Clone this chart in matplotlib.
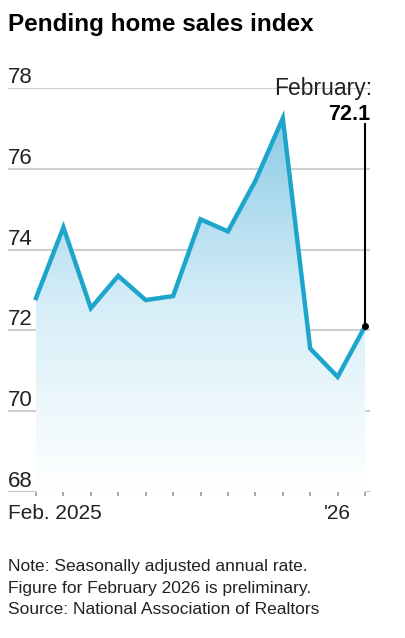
import numpy as np
import matplotlib.pyplot as plt
import matplotlib.transforms as mtransforms
from matplotlib.colors import LinearSegmentedColormap

months = ['Feb. 2025', 'Mar', 'Apr', 'May', 'Jun', 'Jul', 'Aug', 'Sep', 'Oct', 'Nov', 'Dec', "'26", 'Feb']
index = [72.8, 74.55, 72.55, 73.35, 72.75, 72.85, 74.75, 74.45, 75.7, 77.25, 71.55, 70.85, 72.1]
yticks = [68, 70, 72, 74, 76, 78]
xlabels = {0: 'Feb. 2025', 11: "'26"}

plt.rcParams['font.family'] = ['Liberation Sans', 'DejaVu Sans']

line_c = '#1ea5cc'
fig = plt.figure(figsize=(4.06, 6.38), dpi=100)
ax = fig.add_axes([8/406, 1-492/638, 362/406, 404/638])
x = np.arange(len(index))
ax.set_xlim(-1.02, 12.18)
ax.set_ylim(68, 78)

# grid lines with labels sitting on top
ylab = mtransforms.blended_transform_factory(ax.transAxes, ax.transData)
for v in yticks:
    ax.axhline(v, color='#cfcfcf' if v != 68 else '#c4c4c4', lw=1.5, zorder=1)
    ax.text(0, v, str(v), transform=ylab, fontsize=16, va='bottom', ha='left', color='#222222')

# gradient fill under the line
poly = ax.fill_between(x, index, 68, color='none', lw=0)
grad = np.linspace(0, 1, 256).reshape(-1, 1)
cmap = LinearSegmentedColormap.from_list('g', ['#ffffff', '#d6eef8', '#8ccbe6'])
im = ax.imshow(grad, cmap=cmap, aspect='auto', origin='lower', extent=[0, 12, 68, 77.3], zorder=2)
im.set_clip_path(poly.get_paths()[0], ax.transData)

ax.plot(x, index, color=line_c, lw=3.2, solid_joinstyle='miter', zorder=4)

ax.set_xticks(x)
ax.set_xticklabels([])
ax.tick_params(axis='x', length=3, width=1.2, color='#999999', pad=2)
ax.set_yticks([])
for s in ax.spines.values():
    s.set_visible(False)
xlab = mtransforms.blended_transform_factory(ax.transData, ax.transAxes)
for i, lab in xlabels.items():
    ha = 'left' if i == 0 else 'center'
    xx = -1.02 if i == 0 else i
    ax.text(xx, -0.03, lab, transform=xlab, fontsize=15, ha=ha, va='top', color='#222222')

# annotation for latest value
ax.plot([12, 12], [index[-1], 77.1], color='black', lw=1.5, zorder=5)
ax.plot(12, index[-1], 'o', color='black', ms=4, zorder=6)
ax.text(12.25, 78, 'February:', fontsize=16.5, ha='right', va='center', color='#222222')
ax.text(12.2, 77.35, '72.1', fontsize=15.5, fontweight='bold', ha='right', va='center', color='black')

fig.text(8/406, 1-25/638, 'Pending home sales index', fontsize=17.5, fontweight='bold', ha='left', va='center')
fig.text(8/406, 1-588/638, 'Note: Seasonally adjusted annual rate.\nFigure for February 2026 is preliminary.\nSource: National Association of Realtors',
         fontsize=12.5, ha='left', va='center', linespacing=1.5, color='#222222')

fig.savefig('out.png', dpi=100)
